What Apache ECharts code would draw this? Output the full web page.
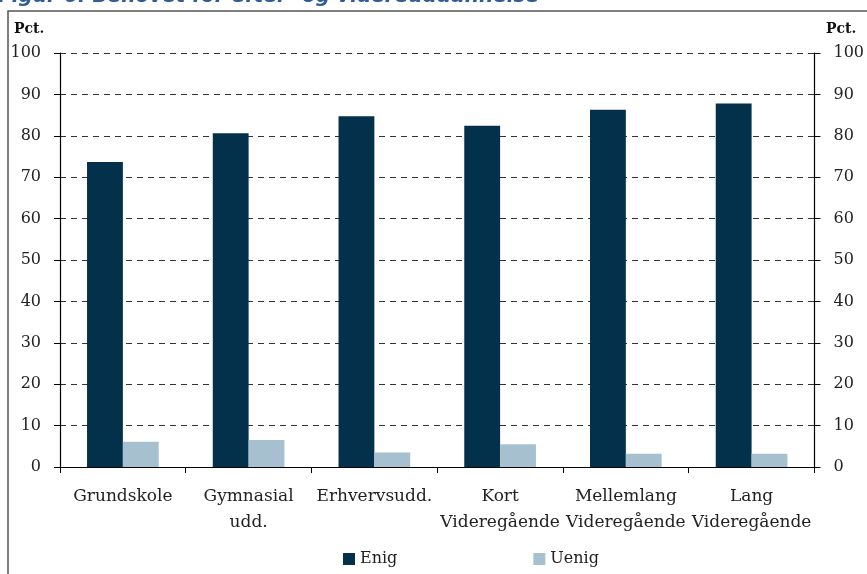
<!DOCTYPE html>
<html>
<head>
<meta charset="utf-8">
<script src="https://cdn.jsdelivr.net/npm/echarts@6/dist/echarts.min.js"></script>
<style>
  html, body { margin: 0; padding: 0; background: #fff; }
  #chart { width: 867px; height: 574px; }
</style>
</head>
<body>
<div id="chart"></div>
<script>
// data
const categories = ['Grundskole', 'Gymnasial\nudd.', 'Erhvervsudd.', 'Kort\nVideregående', 'Mellemlang\nVideregående', 'Lang\nVideregående']
const enig = [73.7, 80.6, 84.7, 82.4, 86.3, 87.8]
const uenig = [6.1, 6.5, 3.5, 5.5, 3.2, 3.2]
const yTicks = { min: 0, max: 100, interval: 10 }

const font = 'DejaVu Serif'
const chart = echarts.init(document.getElementById('chart'))

const yAxisBase = {
  type: 'value',
  min: yTicks.min,
  max: yTicks.max,
  interval: yTicks.interval,
  axisLine: { show: true, lineStyle: { color: '#000', width: 1.2 } },
  axisTick: { show: true, length: 6, lineStyle: { color: '#000' } },
  axisLabel: { color: '#222', fontFamily: font, fontSize: 16, margin: 19 }
}

const option = {
  animation: false,
  backgroundColor: '#fff',
  graphic: [
    {
      type: 'text',
      left: -2,
      top: -13,
      style: {
        text: 'Figur 6. Behovet for efter- og videreuddannelse',
        fontFamily: 'DejaVu Sans',
        fontWeight: 'bold',
        fontStyle: 'italic',
        fontSize: 20,
        fill: '#2e5b9a'
      }
    },
    {
      type: 'rect',
      shape: { x: 8, y: 11, width: 900, height: 600 },
      style: { fill: 'none', stroke: '#555', lineWidth: 1.5 }
    },
    {
      type: 'text',
      left: 14,
      top: 22,
      style: { text: 'Pct.', fontFamily: font, fontWeight: 'bold', fontSize: 14, fill: '#111' }
    },
    {
      type: 'text',
      left: 826,
      top: 22,
      style: { text: 'Pct.', fontFamily: font, fontWeight: 'bold', fontSize: 14, fill: '#111' }
    }
  ],
  grid: {
    left: 60,
    right: 50,
    top: 53,
    bottom: 107
  },
  legend: {
    bottom: 2,
    left: 338,
    itemWidth: 12,
    itemHeight: 12,
    itemGap: 136,
    icon: 'rect',
    textStyle: { color: '#222', fontFamily: font, fontSize: 16 },
    data: ['Enig', 'Uenig']
  },
  xAxis: {
    type: 'category',
    data: categories,
    axisLine: { lineStyle: { color: '#000', width: 1.2 } },
    axisTick: { show: true, interval: 0, length: 6, lineStyle: { color: '#000' } },
    axisLabel: { interval: 0, color: '#222', fontFamily: font, fontSize: 17, margin: 17, lineHeight: 26 }
  },
  yAxis: [
    Object.assign({}, yAxisBase, {
      position: 'left',
      splitLine: { show: true, lineStyle: { color: '#333', type: [6, 5], width: 1.2 } }
    }),
    Object.assign({}, yAxisBase, {
      position: 'right',
      splitLine: { show: false }
    })
  ],
  series: [
    {
      name: 'Enig',
      type: 'bar',
      data: enig,
      barGap: '0%',
      barCategoryGap: '43%',
      itemStyle: { color: '#03304a' }
    },
    {
      name: 'Uenig',
      type: 'bar',
      data: uenig,
      itemStyle: { color: '#a6c0d0' }
    }
  ]
}

chart.setOption(option)
</script>
</body>
</html>
